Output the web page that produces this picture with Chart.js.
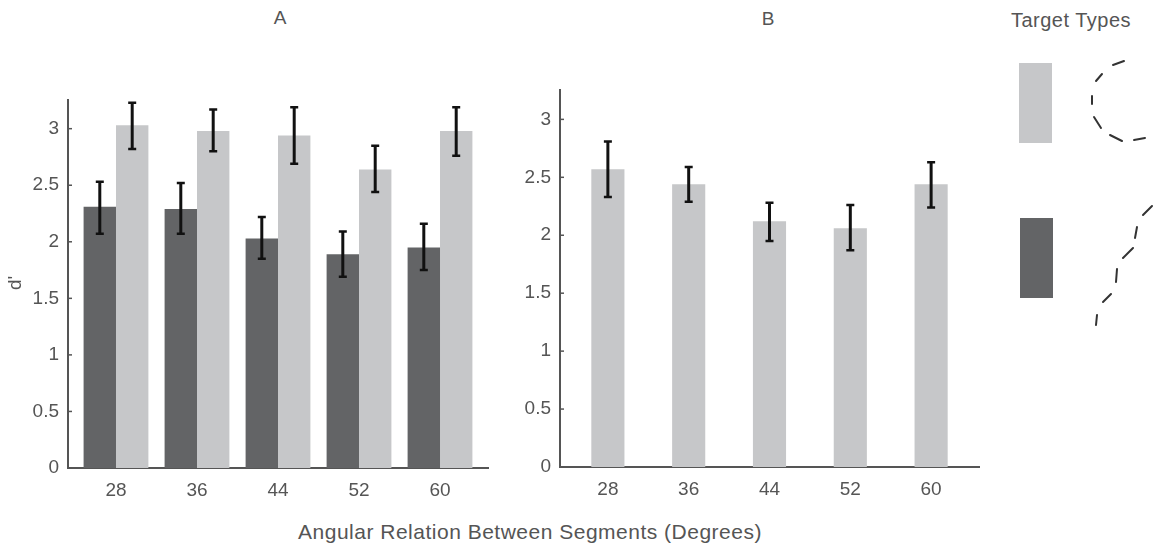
<!DOCTYPE html>
<html>
<head>
<meta charset="utf-8">
<script src="https://cdn.jsdelivr.net/npm/chart.js@4.4.1/dist/chart.umd.min.js"></script>
<style>
  html, body { margin: 0; padding: 0; background: #fff; }
  #page { position: relative; width: 1155px; height: 549px; overflow: hidden;
          font-family: "Liberation Sans", Arial, sans-serif; color: #555; }
  .box { position: absolute; }
  .txt { position: absolute; white-space: nowrap; transform: translate(-50%, -50%); }
</style>
</head>
<body>
<div id="page">
  <div class="box" style="left:0;top:80px;width:495px;height:420px;"><canvas id="chartA"></canvas></div>
  <div class="box" style="left:495px;top:70px;width:490px;height:430px;"><canvas id="chartB"></canvas></div>

  <div class="txt" style="left:280px;top:18px;font-size:19px;">A</div>
  <div class="txt" style="left:768px;top:19px;font-size:19px;">B</div>
  <div class="txt" style="left:1071px;top:20px;font-size:20px;letter-spacing:0.5px;">Target Types</div>
  <div class="txt" style="left:15px;top:283px;font-size:19px;transform:translate(-50%,-50%) rotate(-90deg);">d'</div>
  <div class="txt" style="left:530px;top:532px;font-size:21px;letter-spacing:0.5px;">Angular Relation Between Segments (Degrees)</div>

  <!-- legend swatches and target shapes -->
  <div class="box" style="left:1019px;top:63px;width:33px;height:80px;background:#c6c7c9;"></div>
  <div class="box" style="left:1020px;top:218px;width:33px;height:80px;background:#636466;"></div>
  <svg class="box" style="left:0;top:0;" width="1155" height="549">
    <g stroke="#333" stroke-width="2" stroke-linecap="round">
      <line x1="1113" y1="65" x2="1124" y2="61"/>
      <line x1="1096" y1="81" x2="1102" y2="74"/>
      <line x1="1092" y1="96" x2="1092" y2="104"/>
      <line x1="1094" y1="117" x2="1101" y2="128"/>
      <line x1="1110" y1="135" x2="1122" y2="141"/>
      <line x1="1134" y1="140" x2="1145" y2="138"/>
      <line x1="1143" y1="215" x2="1152" y2="206"/>
      <line x1="1137" y1="227" x2="1135" y2="238"/>
      <line x1="1123" y1="258" x2="1133" y2="248"/>
      <line x1="1117" y1="269" x2="1116" y2="282"/>
      <line x1="1103" y1="302" x2="1111" y2="294"/>
      <line x1="1097" y1="315" x2="1096" y2="325"/>
    </g>
  </svg>
</div>

<script>
// angular relation between segments (degrees)
const categories = [28, 36, 44, 52, 60];
const yTicks = [0, 0.5, 1, 1.5, 2, 2.5, 3];

// panel A, dark target type
const aDark   = [2.31, 2.29, 2.03, 1.89, 1.95];
const aDarkLo = [2.07, 2.07, 1.85, 1.69, 1.75];
const aDarkHi = [2.53, 2.52, 2.22, 2.09, 2.16];
// panel A, light target type
const aLight   = [3.03, 2.98, 2.94, 2.64, 2.98];
const aLightLo = [2.82, 2.80, 2.69, 2.44, 2.76];
const aLightHi = [3.23, 3.17, 3.19, 2.85, 3.19];
// panel B, light target type
const bLight   = [2.57, 2.44, 2.12, 2.06, 2.44];
const bLightLo = [2.33, 2.29, 1.95, 1.87, 2.24];
const bLightHi = [2.81, 2.59, 2.28, 2.26, 2.63];

const DARK = '#636466';
const LIGHT = '#c6c7c9';
const AXIS = '#555';
const FONT = '"Liberation Sans", Arial, sans-serif';

const toPoints = vals => vals.map((v, i) => ({ x: categories[i], y: v }));

// error bars + inward y ticks
const errorBars = {
    id: 'errorBars',
    afterDatasetsDraw(chart) {
        const ctx = chart.ctx;
        const yScale = chart.scales.y;
        const area = chart.chartArea;
        ctx.save();
        ctx.strokeStyle = AXIS;
        ctx.lineWidth = 1.5;
        yTicks.forEach(t => {
            const py = yScale.getPixelForValue(t);
            ctx.beginPath();
            ctx.moveTo(area.left, py);
            ctx.lineTo(area.left + 4, py);
            ctx.stroke();
        });
        ctx.strokeStyle = '#111';
        ctx.lineWidth = 3;
        chart.data.datasets.forEach((ds, di) => {
            const meta = chart.getDatasetMeta(di);
            meta.data.forEach((bar, i) => {
                const x = bar.x;
                const lo = yScale.getPixelForValue(ds.errLo[i]);
                const hi = yScale.getPixelForValue(ds.errHi[i]);
                ctx.beginPath();
                ctx.moveTo(x, lo); ctx.lineTo(x, hi);
                ctx.stroke();
                ctx.lineWidth = 2.5;
                ctx.beginPath();
                ctx.moveTo(x - 4, lo); ctx.lineTo(x + 4, lo);
                ctx.moveTo(x - 4, hi); ctx.lineTo(x + 4, hi);
                ctx.stroke();
                ctx.lineWidth = 3;
            });
        });
        ctx.restore();
    }
};

function makeOptions(yWidth, xHeight, pad, catPct) {
    return {
        responsive: true,
        maintainAspectRatio: false,
        animation: false,
        layout: { padding: pad },
        categoryPercentage: catPct,
        barPercentage: 1,
        plugins: { legend: { display: false }, tooltip: { enabled: false } },
        scales: {
            x: {
                type: 'linear',
                offset: false,
                min: 23.26,
                max: 64.74,
                afterBuildTicks: s => { s.ticks = categories.map(v => ({ value: v })); },
                afterFit: s => { s.height = xHeight; },
                grid: { display: false, drawTicks: false },
                border: { color: AXIS, width: 2 },
                ticks: { color: AXIS, padding: 11, autoSkip: false, maxRotation: 0,
                         font: { family: FONT, size: 19 }, callback: v => String(v) }
            },
            y: {
                min: 0,
                max: 3.25,
                afterBuildTicks: s => { s.ticks = yTicks.map(v => ({ value: v })); },
                afterFit: s => { s.width = yWidth; },
                grid: { display: false, drawTicks: false },
                border: { color: AXIS, width: 2 },
                ticks: { color: AXIS, padding: 9, font: { family: FONT, size: 19 },
                         callback: v => String(v) }
            }
        }
    };
}

new Chart(document.getElementById('chartA'), {
    type: 'bar',
    data: {
        datasets: [
            { data: toPoints(aDark), backgroundColor: DARK, errLo: aDarkLo, errHi: aDarkHi },
            { data: toPoints(aLight), backgroundColor: LIGHT, errLo: aLightLo, errHi: aLightHi }
        ]
    },
    options: makeOptions(68, 32, { top: 13, right: 7, left: 0, bottom: 0 }, 0.8),
    plugins: [errorBars]
});

new Chart(document.getElementById('chartB'), {
    type: 'bar',
    data: {
        datasets: [
            { data: toPoints(bLight), backgroundColor: LIGHT, errLo: bLightLo, errHi: bLightHi }
        ]
    },
    options: makeOptions(65, 33, { top: 13, right: 6, left: 0, bottom: 0 }, 0.41),
    plugins: [errorBars]
});
</script>
</body>
</html>
